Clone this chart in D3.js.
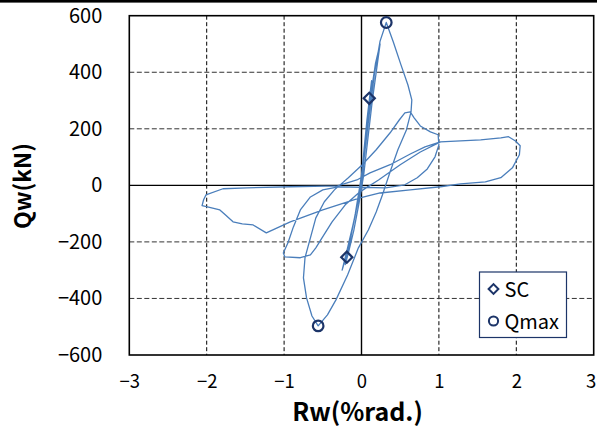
<!DOCTYPE html>
<html>
<head>
<meta charset="utf-8">
<script src="https://cdn.jsdelivr.net/npm/d3@7"></script>
<style>
  body { margin: 0; background: #fff; }
  svg { display: block; font-family: "Noto Sans CJK JP", "Noto Sans", sans-serif; }
</style>
</head>
<body>
<div class="container"></div>
<script>
// hysteresis loop (Rw in %rad., Qw in kN)
const rw = [
  0, 0.05, 0.10, 0.13, 0.07, 0.02, -0.02, -0.08, -0.16, -0.20, -0.25, -0.18, -0.11, -0.04, 0.01, 0.06,
  0.12, 0.18, 0.24, 0.20, 0.14, 0.08, 0.03, -0.03, -0.10, -0.17, -0.21, -0.15, -0.08, -0.02, 0.04, 0.10,
  0.17, 0.24, 0.32,
  0.41, 0.51, 0.60, 0.65, 0.64, 0.58, 0.47, 0.37, 0.27, 0.19, 0.09, -0.04, -0.18, -0.33, -0.44, -0.56,
  -0.64, -0.71, -0.75, -0.73, -0.66, -0.59, -0.48, -0.35, -0.17, 0.01, 0.19, 0.37, 0.49, 0.56, 0.63,
  0.68, 0.76, 0.89, 0.99, 1.00, 0.95, 0.85, 0.72, 0.56, 0.31, -0.30, -0.50, -0.66, -0.79, -0.88, -0.95,
  -1.01, -0.99, -0.79, -0.66, -0.59, -0.51, -0.38, -0.21, -0.02, 0.22, 0.50, 0.76, 1.02, 1.28, 1.54,
  1.80, 1.90, 1.99, 2.05, 2.04, 1.95, 1.80, 1.60, 1.28, 1.02, 0.63, 0.24, -0.02, -0.50, -0.92, -1.23,
  -1.40, -1.54, -1.66, -1.76, -1.83, -1.99, -2.06, -2.04, -2.01, -1.79, -1.48, -0.92, -0.31, -0.06,
  0.11, 0.37, 0.63, 0.82, 1.02
];
const qw = [
  0, 143, 301, 370, 230, 90, -16, -104, -210, -253, -300, -221, -140, -51, 37, 161,
  320, 430, 500, 420, 300, 160, 40, -60, -160, -240, -280, -200, -100, 0, 110, 250,
  400, 510, 576,
  508, 426, 355, 302, 260, 196, 126, 48, -34, -94, -157, -221, -317, -405, -458, -497,
  -462, -398, -327, -256, -186, -115, -58, -16, 27, 73, 126, 186, 232, 256, 260,
  239, 210, 189, 179, 143, 101, 58, 27, 2, -9, -5, -16, -41, -87, -147, -203,
  -239, -253, -256, -246, -221, -186, -129, -69, -23, 19, 73, 118, 154, 157, 161,
  168, 172, 157, 140, 108, 62, 27, 12, 5, -5, -16, -27, -44, -87, -129, -168,
  -140, -136, -129, -104, -87, -76, -72, -51, -34, -12, -9, -5, -2, 19,
  44, 73, 111, 136, 154
];

const scRw = [0.10, -0.19];
const scQw = [308, -254];
const qmaxRw = [0.32, -0.56];
const qmaxQw = [576, -497];

const xTicks = [-3, -2, -1, 0, 1, 2, 3];
const yTicks = [-600, -400, -200, 0, 200, 400, 600];

const margin = { top: 15.7, right: 3.3, bottom: 75, left: 129.3 },
  width = 597 - margin.left - margin.right,
  height = 430 - margin.top - margin.bottom;

const x = d3.scaleLinear().domain([-3, 3]).range([0, width]);
const y = d3.scaleLinear().domain([-600, 600]).range([height, 0]);

const lineColor = "#4a7ebb";
const markColor = "#1c3468";

const root = d3
  .select(".container")
  .append("svg")
  .attr("width", 597)
  .attr("height", 430);

// thick rule across the top of the figure
root.append("rect")
  .attr("x", 0).attr("y", 0)
  .attr("width", 597).attr("height", 2.6)
  .attr("fill", "#000");

const svg = root.append("g")
  .attr("transform", `translate(${margin.left},${margin.top})`);

// dashed grid
svg.append("g")
  .selectAll("line")
  .data(xTicks.filter(d => d !== 0 && Math.abs(d) !== 3))
  .enter()
  .append("line")
  .attr("x1", d => x(d)).attr("x2", d => x(d))
  .attr("y1", 0).attr("y2", height)
  .attr("stroke", "#000")
  .attr("stroke-width", 1)
  .attr("stroke-dasharray", "4,2.5");

svg.append("g")
  .selectAll("line")
  .data(yTicks.filter(d => d !== 0 && Math.abs(d) !== 600))
  .enter()
  .append("line")
  .attr("x1", 0).attr("x2", width)
  .attr("y1", d => y(d)).attr("y2", d => y(d))
  .attr("stroke", "#333")
  .attr("stroke-width", 1)
  .attr("stroke-dasharray", "5,2.5");

// zero lines
svg.append("line")
  .attr("x1", x(0)).attr("x2", x(0)).attr("y1", 0).attr("y2", height)
  .attr("stroke", "#000").attr("stroke-width", 1.4);
svg.append("line")
  .attr("x1", 0).attr("x2", width).attr("y1", y(0)).attr("y2", y(0))
  .attr("stroke", "#000").attr("stroke-width", 1.4);

// frame
svg.append("rect")
  .attr("x", 0).attr("y", 0)
  .attr("width", width).attr("height", height)
  .attr("fill", "none")
  .attr("stroke", "#000")
  .attr("stroke-width", 1.6);

// axes (labels only)
const xAxis = d3.axisBottom(x).tickValues(xTicks).tickFormat(d3.format("d")).tickSize(0).tickPadding(20);
const gx = svg.append("g")
  .attr("transform", `translate(0,${height})`)
  .call(xAxis);
gx.select(".domain").remove();
gx.selectAll("text")
  .attr("font-size", 18.5)
  .attr("font-family", "'Noto Sans CJK JP', sans-serif")
  .attr("fill", "#000")
  .attr("dx", d => (d === 3 ? -3 : 0));

const yAxis = d3.axisLeft(y).tickValues(yTicks).tickFormat(d3.format("d")).tickSize(0).tickPadding(27);
const gy = svg.append("g").call(yAxis);
gy.select(".domain").remove();
gy.selectAll("text")
  .attr("font-size", 20)
  .attr("font-family", "'Noto Sans CJK JP', sans-serif")
  .attr("fill", "#000");

// hysteresis curve
const pts = rw.map((d, i) => [d, qw[i]]);
svg.append("path")
  .datum(pts)
  .attr("fill", "none")
  .attr("stroke", lineColor)
  .attr("stroke-width", 1.3)
  .attr("stroke-linejoin", "round")
  .attr("d", d3.line().x(d => x(d[0])).y(d => y(d[1])));

// markers
const diamond = d3.symbol().type(d3.symbolSquare).size(62);
svg.append("g")
  .selectAll("path")
  .data(scRw)
  .enter()
  .append("path")
  .attr("d", diamond)
  .attr("transform", (d, i) => `translate(${x(d)},${y(scQw[i])}) rotate(45)`)
  .attr("fill", "none")
  .attr("stroke", markColor)
  .attr("stroke-width", 2.2);

svg.append("g")
  .selectAll("circle")
  .data(qmaxRw)
  .enter()
  .append("circle")
  .attr("cx", d => x(d))
  .attr("cy", (d, i) => y(qmaxQw[i]))
  .attr("r", 5.3)
  .attr("fill", "none")
  .attr("stroke", markColor)
  .attr("stroke-width", 2.2);

// legend
const lg = root.append("g").attr("transform", "translate(479.5,272)");
lg.append("rect")
  .attr("width", 87).attr("height", 65.5)
  .attr("fill", "#fff")
  .attr("stroke", markColor)
  .attr("stroke-width", 1.2);
lg.append("path")
  .attr("d", d3.symbol().type(d3.symbolSquare).size(48))
  .attr("transform", "translate(14,17) rotate(45)")
  .attr("fill", "none")
  .attr("stroke", markColor)
  .attr("stroke-width", 2);
lg.append("text")
  .attr("x", 25).attr("y", 25)
  .attr("font-size", 20)
  .text("SC");
lg.append("circle")
  .attr("cx", 14).attr("cy", 49)
  .attr("r", 4.6)
  .attr("fill", "none")
  .attr("stroke", markColor)
  .attr("stroke-width", 2);
lg.append("text")
  .attr("x", 25).attr("y", 56.5)
  .attr("font-size", 20)
  .text("Qmax");

// axis titles
root.append("text")
  .attr("x", 357.5)
  .attr("y", 421)
  .attr("text-anchor", "middle")
  .attr("font-size", 25)
  .attr("font-weight", "bold")
  .text("Rw(%rad.)");

root.append("text")
  .attr("transform", "translate(31,186) rotate(-90)")
  .attr("text-anchor", "middle")
  .attr("font-size", 23)
  .attr("font-weight", "bold")
  .text("Qw(kN)");
</script>
</body>
</html>
